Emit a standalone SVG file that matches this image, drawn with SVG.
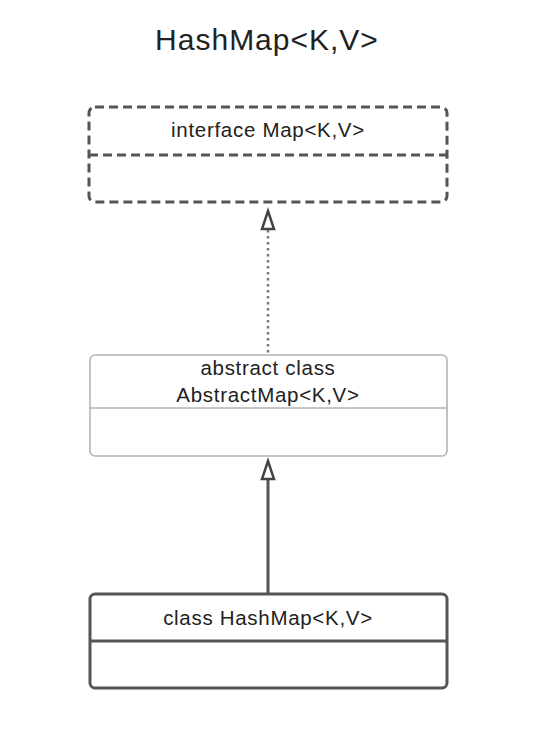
<svg xmlns="http://www.w3.org/2000/svg" width="542" height="736" viewBox="0 0 542 736">
<style>
text{font-family:"Liberation Sans",Arial,sans-serif;fill:#222;text-anchor:middle}
.lbl{font-size:20.5px;letter-spacing:0.7px}
.iface{fill:#fff;stroke:#555;stroke-width:3;stroke-dasharray:9 5}
.abs{fill:#fff;stroke:#b4b4b4;stroke-width:1.6}
.cls{fill:#fff;stroke:#555;stroke-width:3}
</style>
<rect width="542" height="736" fill="#fff"/>
<text x="267" y="50" style="font-size:30px;letter-spacing:1px">HashMap&lt;K,V&gt;</text>
<g id="connectors">
<line x1="268" y1="230" x2="268" y2="353" stroke="#777" stroke-width="2.5" stroke-dasharray="2.5 3.5"/>
<polygon points="268,211 262,229 274,229" fill="#fff" stroke="#444" stroke-width="2.5" stroke-linejoin="miter"/>
<line x1="268" y1="479" x2="268" y2="593" stroke="#555" stroke-width="3"/>
<polygon points="268,461 262,479 274,479" fill="#fff" stroke="#444" stroke-width="2.5"/>
</g>
<g id="node-map">
<rect class="iface" x="89" y="107" width="358" height="95" rx="6"/>
<line class="iface" x1="89" y1="155" x2="447" y2="155"/>
<text class="lbl" x="268" y="137">interface Map&lt;K,V&gt;</text>
</g>
<g id="node-abstractmap">
<rect class="abs" x="90" y="355" width="357" height="101" rx="5"/>
<line class="abs" x1="90" y1="408" x2="447" y2="408"/>
<text class="lbl" x="268" y="375">abstract class</text>
<text class="lbl" x="268" y="402">AbstractMap&lt;K,V&gt;</text>
</g>
<g id="node-hashmap">
<rect class="cls" x="90" y="594" width="357" height="94" rx="5"/>
<line class="cls" x1="90" y1="641" x2="447" y2="641"/>
<text class="lbl" x="268" y="625">class HashMap&lt;K,V&gt;</text>
</g>
</svg>
